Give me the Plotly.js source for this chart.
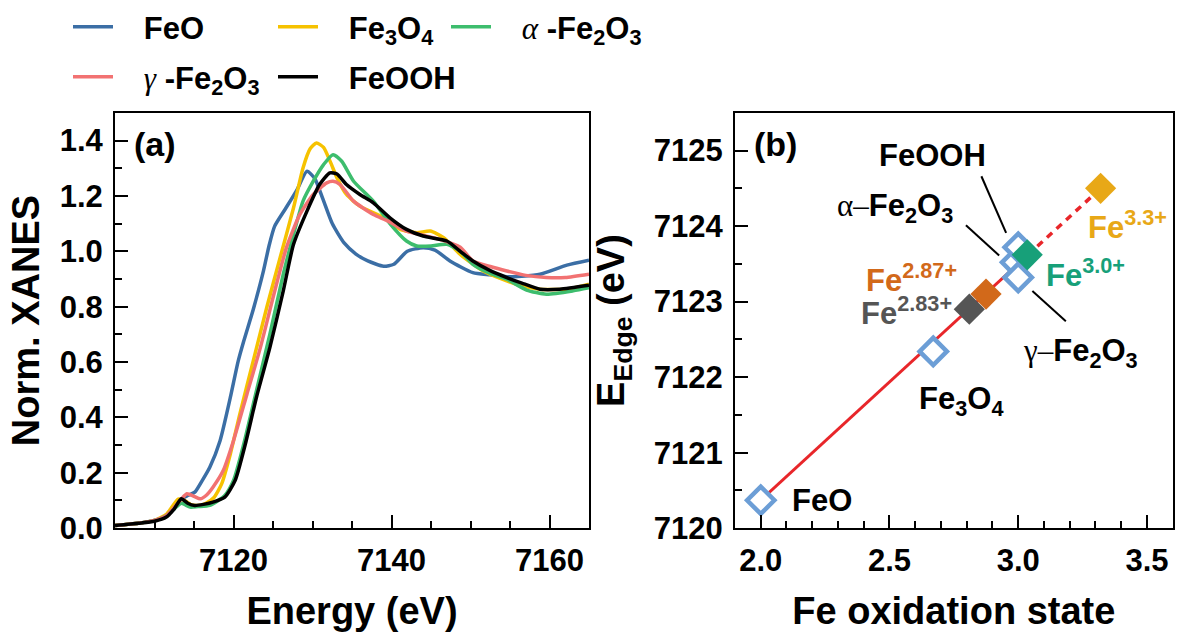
<!DOCTYPE html>
<html>
<head>
<meta charset="utf-8">
<script src="https://cdn.plot.ly/plotly-3.0.1.min.js"></script>
<style>html,body{margin:0;padding:0;background:#fff;}</style>
</head>
<body>
<div id="chart" style="width:1177px;height:635px;"></div>
<script>
// ---------- Panel (a): normalized XANES spectra ----------
const feoE = [7105,7108,7110,7111.5,7112.5,7113.4,7114.2,7115.1,7116,7117,7118.3,7119.6,7120.6,7121.3,7122.5,7123.8,7124.5,7125.2,7126.5,7128,7129.3,7130.3,7131.3,7132.5,7134,7135.5,7137,7139,7140.3,7142,7144,7145.5,7147.4,7150.3,7152.5,7154.6,7156.5,7158.8,7162.2,7165];
const feoY = [0.010,0.018,0.028,0.045,0.070,0.105,0.118,0.130,0.170,0.220,0.316,0.472,0.604,0.676,0.790,0.930,1.020,1.090,1.150,1.220,1.289,1.262,1.190,1.100,1.030,0.990,0.965,0.946,0.953,1.000,1.013,1.004,0.965,0.923,0.915,0.908,0.910,0.917,0.950,0.968];

const fe3o4E = [7105,7108,7110,7111.5,7112.3,7113.0,7113.8,7114.6,7115.5,7116.5,7117.5,7118.5,7119.6,7120.8,7122.5,7124.2,7125.9,7127.6,7128.8,7129.7,7130.5,7131.4,7132.3,7133.1,7134.3,7136,7139,7141.1,7143.2,7144.9,7146.6,7148.7,7151.6,7155.8,7158.8,7162.2,7165];
const fe3o4Y = [0.010,0.018,0.028,0.050,0.080,0.105,0.100,0.085,0.082,0.090,0.110,0.160,0.268,0.412,0.604,0.796,0.977,1.157,1.301,1.370,1.391,1.375,1.320,1.265,1.205,1.163,1.121,1.079,1.067,1.073,1.049,0.989,0.929,0.881,0.863,0.863,0.881];

const aFe2o3E = [7105,7108,7110,7111.5,7112.5,7113.4,7114.5,7115.5,7117,7118.9,7120,7121.3,7122.9,7124.6,7126.3,7127.6,7128.8,7130.1,7131.4,7132.6,7133.7,7135.2,7137.7,7139.8,7141.9,7143.2,7145,7147,7148.7,7150.3,7152.5,7154.6,7157.1,7159.6,7163,7165];
const aFe2o3Y = [0.010,0.018,0.028,0.045,0.070,0.090,0.076,0.078,0.082,0.118,0.172,0.304,0.496,0.700,0.917,1.061,1.181,1.253,1.313,1.349,1.325,1.253,1.181,1.100,1.037,1.019,1.019,1.025,1.000,0.953,0.920,0.899,0.860,0.845,0.857,0.868];

const gFe2o3E = [7105,7108,7110,7111.5,7112.5,7113.4,7114.1,7115,7115.8,7116.6,7117.4,7118.7,7120,7121.7,7123.4,7125,7126.7,7128.4,7130.1,7131.8,7132.6,7133.5,7135.2,7137.7,7139.5,7141.9,7143.6,7146.1,7148.7,7150.3,7152.5,7154.6,7157,7159.6,7162,7165];
const gFe2o3Y = [0.010,0.018,0.028,0.045,0.075,0.105,0.124,0.115,0.106,0.120,0.148,0.208,0.316,0.484,0.652,0.832,1.013,1.133,1.205,1.247,1.253,1.241,1.181,1.133,1.110,1.073,1.061,1.043,1.015,0.965,0.945,0.929,0.913,0.905,0.905,0.917];

const feoohE = [7105,7108,7110,7111.5,7112.5,7113.4,7114.2,7115.1,7116.2,7117.4,7118.9,7120.2,7121.5,7122.9,7124.6,7126.3,7127.6,7129.3,7130.9,7132.2,7133.1,7134.3,7136,7137.7,7139.8,7141.9,7144,7147,7148.7,7150.3,7152.5,7154.6,7156.5,7158.8,7161.3,7165];
const feoohY = [0.010,0.018,0.025,0.040,0.070,0.106,0.090,0.082,0.086,0.094,0.112,0.172,0.304,0.472,0.652,0.857,1.025,1.145,1.241,1.283,1.279,1.241,1.205,1.175,1.121,1.079,1.055,1.037,1.000,0.965,0.930,0.905,0.885,0.863,0.863,0.877];

const NB = '\u00A0\u00A0\u00A0';
const seriesNames = [NB + 'FeO', NB + 'Fe<sub>3</sub>O<sub>4</sub>',
  NB + '<span style="font-family:\'Liberation Serif\';font-weight:normal"><i>α</i></span> -Fe<sub>2</sub>O<sub>3</sub>',
  NB + '<span style="font-family:\'Liberation Serif\';font-weight:normal"><i>γ</i></span> -Fe<sub>2</sub>O<sub>3</sub>',
  NB + 'FeOOH'];
const seriesColors = ['#3b6ea5','#f6c200','#3dbd6d','#f27272','#000000'];

// ---------- Panel (b): edge energy vs oxidation state ----------
const refLabels = ['FeO','Fe3O4','a-Fe2O3','FeOOH','g-Fe2O3'];
const refOx = [2.0, 2.67, 2.99, 3.0, 3.0];
const refEdge = [7120.37, 7122.34, 7123.52, 7123.72, 7123.32];

const sampleLabels = ['Fe<sup>2.83+</sup>','Fe<sup>2.87+</sup>','Fe<sup>3.0+</sup>','Fe<sup>3.3+</sup>'];
const sampleOx = [2.81, 2.875, 3.035, 3.32];
const sampleEdge = [7122.90, 7123.10, 7123.62, 7124.50];
const sampleColors = ['#555555','#d2691a','#17a079','#e8a817'];

const fitSolidX = [2.0, 3.0];
const fitSolidY = [7120.37, 7123.50];
const fitDashX = [3.0, 3.32];
const fitDashY = [7123.50, 7124.50];

const FONT = "'Liberation Sans', Arial, Helvetica, sans-serif";
const traces = [];
const specX = [feoE, fe3o4E, aFe2o3E, gFe2o3E, feoohE];
const specY = [feoY, fe3o4Y, aFe2o3Y, gFe2o3Y, feoohY];
const legendIds = ['legend','legend2','legend3','legend4','legend5'];
for (let i = 0; i < 5; i++) {
  traces.push({type:'scatter', mode:'lines', x:specX[i], y:specY[i], name:seriesNames[i],
    line:{color:seriesColors[i], width:3.5, shape:'spline', smoothing:0.6},
    xaxis:'x', yaxis:'y', legend:legendIds[i], showlegend:true, hoverinfo:'skip'});
}
traces.push({type:'scatter', mode:'lines', x:fitSolidX, y:fitSolidY, line:{color:'#e8262a', width:3},
  xaxis:'x2', yaxis:'y2', showlegend:false});
traces.push({type:'scatter', mode:'lines', x:fitDashX, y:fitDashY, line:{color:'#e8262a', width:3.5, dash:'7px,6px'},
  xaxis:'x2', yaxis:'y2', showlegend:false});
traces.push({type:'scatter', mode:'markers', x:refOx, y:refEdge, text:refLabels,
  marker:{symbol:'diamond', size:21, color:'#ffffff', line:{color:'#6c9ed6', width:4.5}},
  xaxis:'x2', yaxis:'y2', showlegend:false});
traces.push({type:'scatter', mode:'markers', x:sampleOx, y:sampleEdge, text:sampleLabels,
  marker:{symbol:'diamond', size:24, color:sampleColors, line:{width:0}},
  xaxis:'x2', yaxis:'y2', showlegend:false});

function axisBase(extra) {
  return Object.assign({
    showline:true, linewidth:2, linecolor:'#000', mirror:true,
    ticks:'inside', ticklen:13, tickwidth:2, tickcolor:'#000',
    showgrid:false, zeroline:false, automargin:false,
    tickfont:{family:FONT, size:31, color:'#000', weight:'bold'},
    ticklabelstandoff:4
  }, extra);
}

const yDom = [107/635, 523/635];
const TITLE_FONT = {family:FONT, size:38, color:'#000', weight:'bold'};
const layout = {
  width:1177, height:635, margin:{l:0, r:0, t:0, b:0},
  paper_bgcolor:'#fff', plot_bgcolor:'#fff',
  font:{family:FONT, size:30, color:'#000', weight:'bold'},
  xaxis: axisBase({domain:[115/1177, 589/1177], range:[7105,7165], tick0:7120, dtick:20, anchor:'y',
    minor:{dtick:5, ticks:'inside', ticklen:7, tickwidth:2, tickcolor:'#000', showgrid:false},
    title:{text:'Energy (eV)', font:TITLE_FONT, standoff:20}}),
  yaxis: axisBase({domain:yDom, range:[0,1.5], tick0:0, dtick:0.2, tickformat:'.1f', anchor:'x',
    minor:{dtick:0.1, ticks:'inside', ticklen:7, tickwidth:2, tickcolor:'#000', showgrid:false},
    title:{text:'Norm. XANES', font:TITLE_FONT, standoff:8}}),
  xaxis2: axisBase({domain:[735/1177, 1172.7/1177], range:[1.9,3.6], tick0:2, dtick:0.5, tickformat:'.1f', anchor:'y2',
    minor:{dtick:0.1, ticks:'inside', ticklen:7, tickwidth:2, tickcolor:'#000', showgrid:false},
    title:{text:'Fe oxidation state', font:TITLE_FONT, standoff:20}}),
  yaxis2: axisBase({domain:yDom, range:[7120,7125.5], tick0:7120, dtick:1, anchor:'x2',
    minor:{dtick:0.5, ticks:'inside', ticklen:7, tickwidth:2, tickcolor:'#000', showgrid:false},
    title:{text:'E<sub>Edge</sub> (eV)', font:TITLE_FONT, standoff:18}}),
  annotations: [],
  shapes: []
};

// legends: 3 columns x 2 rows
const legendPos = [[68,26],[273,26],[446,26],[68,77],[273,77]];
legendIds.forEach((id, i) => {
  layout[id] = {x:legendPos[i][0]/1177, y:1 - legendPos[i][1]/635, xanchor:'left', yanchor:'middle',
    bgcolor:'rgba(0,0,0,0)', borderwidth:0, itemwidth:40,
    font:{family:FONT, size:31, color:'#000', weight:'bold'}};
});

// panel labels
layout.annotations.push({xref:'x domain', yref:'y domain', x:0.035, y:0.925, xanchor:'left', yanchor:'middle',
  text:'(a)', showarrow:false, font:{family:FONT, size:34, weight:'bold'}});
layout.annotations.push({xref:'x2 domain', yref:'y2 domain', x:0.038, y:0.925, xanchor:'left', yanchor:'middle',
  text:'(b)', showarrow:false, font:{family:FONT, size:34, weight:'bold'}});

// text labels in panel (b)
const serif = t => '<span style="font-family:\'Liberation Serif\';font-weight:normal">' + t + '</span>';
const bLabels = [
  {x:2.667, y:7124.94, t:'FeOOH', c:'#000'},
  {x:2.523, y:7124.24, t:serif('α–') + 'Fe<sub>2</sub>O<sub>3</sub>', c:'#000'},
  {x:3.240, y:7122.32, t:serif('γ–') + 'Fe<sub>2</sub>O<sub>3</sub>', c:'#000'},
  {x:2.779, y:7121.68, t:'Fe<sub>3</sub>O<sub>4</sub>', c:'#000'},
  {x:2.236, y:7120.37, t:'FeO', c:'#000'},
  {x:2.585, y:7123.31, t:sampleLabels[1], c:sampleColors[1]},
  {x:2.566, y:7122.88, t:sampleLabels[0], c:sampleColors[0]},
  {x:3.260, y:7123.38, t:sampleLabels[2], c:sampleColors[2]},
  {x:3.426, y:7124.02, t:sampleLabels[3], c:sampleColors[3]}
];
bLabels.forEach(l => layout.annotations.push({xref:'x2', yref:'y2', x:l.x, y:l.y, text:l.t, showarrow:false,
  xanchor:'center', yanchor:'middle', borderpad:0, font:{family:FONT, size:31, color:l.c, weight:'bold'}}));

// leader lines
const leaders = [[2.857,7124.66,2.953,7123.91],[2.797,7124.01,2.926,7123.61],[3.055,7123.14,3.185,7122.74]];
leaders.forEach(s => layout.shapes.push({type:'line', xref:'x2', yref:'y2', x0:s[0], y0:s[1], x1:s[2], y1:s[3],
  line:{color:'#000', width:2}}));

Plotly.newPlot('chart', traces, layout, {staticPlot:true, displayModeBar:false});
</script>
</body>
</html>
